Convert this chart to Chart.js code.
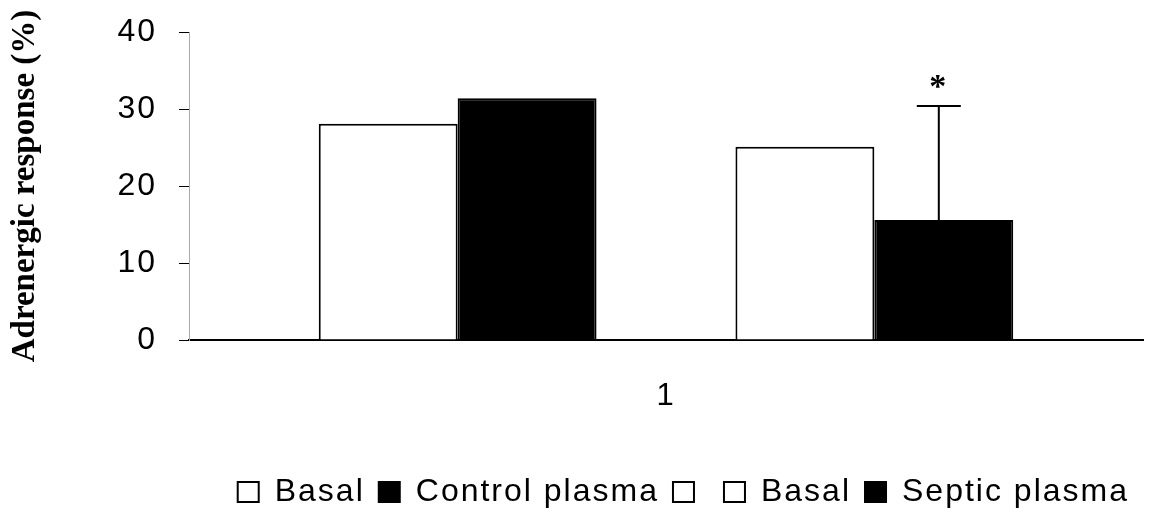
<!DOCTYPE html>
<html>
<head>
<meta charset="utf-8">
<script src="https://cdn.jsdelivr.net/npm/chart.js@4/dist/chart.umd.min.js"></script>
<style>
  html, body { margin: 0; padding: 0; background: #fff; }
  #wrap { width: 1155px; height: 522px; }
</style>
</head>
<body>
<div id="wrap"><canvas id="chart"></canvas></div>
<script>
// data
const categories = ['1'];
const seriesNames = ['Basal', 'Control plasma', '', 'Basal', 'Septic plasma'];
const basal1 = [28.1];
const controlPlasma = [31.4];
const blankSeries = [null];
const basal2 = [25.1];
const septicPlasma = [15.6];
const septicErrorTop = [30.4];
const yTicks = [0, 10, 20, 30, 40];

const sans = '"Liberation Sans", Arial, sans-serif';
const serif = '"Liberation Serif", "Times New Roman", serif';
const SPACING = '2px';

// wider glyph spacing like the scanned figure (not for the axis title)
const spacingPlugin = {
  id: 'spacing',
  beforeLayout(chart) { chart.ctx.letterSpacing = SPACING; },
  afterLayout(chart) {
    const y = chart.scales.y;
    if (!y._titlePatched) {
      const orig = y.drawTitle;
      y.drawTitle = function() {
        chart.ctx.letterSpacing = '0px';
        orig.apply(this, arguments);
        chart.ctx.letterSpacing = SPACING;
      };
      y._titlePatched = true;
    }
  },
  beforeDraw(chart) { chart.ctx.letterSpacing = SPACING; }
};

// error bar + asterisk on the septic plasma bar
const errorBarPlugin = {
  id: 'errorBar',
  afterDatasetsDraw(chart) {
    const meta = chart.getDatasetMeta(4);
    const yScale = chart.scales.y;
    const ctx = chart.ctx;
    meta.data.forEach((bar, i) => {
      const top = yScale.getPixelForValue(septicErrorTop[i]);
      ctx.save();
      ctx.strokeStyle = '#000';
      ctx.lineWidth = 2;
      ctx.beginPath();
      ctx.moveTo(bar.x - 5, bar.y);
      ctx.lineTo(bar.x - 5, top);
      ctx.moveTo(bar.x - 27, top);
      ctx.lineTo(bar.x + 17, top);
      ctx.stroke();
      ctx.fillStyle = '#000';
      ctx.font = 'bold 34px ' + serif;
      ctx.textAlign = 'center';
      ctx.textBaseline = 'alphabetic';
      ctx.fillText('*', bar.x - 5, top - 9);
      ctx.restore();
    });
  }
};

const fills = ['#fff', '#000', '#fff', '#fff', '#000'];
const values = [basal1, controlPlasma, blankSeries, basal2, septicPlasma];

new Chart(document.getElementById('chart'), {
  type: 'bar',
  data: {
    labels: categories,
    datasets: values.map((v, i) => ({
      label: seriesNames[i],
      data: v,
      backgroundColor: fills[i],
      borderColor: '#000',
      borderWidth: 2,
      categoryPercentage: 0.728,
      barPercentage: 1.0
    }))
  },
  options: {
    responsive: true,
    maintainAspectRatio: false,
    animation: false,
    layout: { padding: { top: 32, right: 12, left: 0, bottom: 4 } },
    plugins: {
      tooltip: { enabled: false },
      legend: {
        position: 'bottom',
        align: 'end',
        labels: {
          color: '#000',
          font: { family: sans, size: 32 },
          boxWidth: 21,
          boxHeight: 20,
          padding: 14
        }
      }
    },
    scales: {
      x: {
        grid: { display: false, drawTicks: false },
        border: { display: true, color: '#000', width: 2 },
        ticks: { color: '#000', font: { family: sans, size: 31 }, padding: 38 },
        afterFit(scale) { scale.height = 122; }
      },
      y: {
        min: 0,
        max: 40,
        afterBuildTicks(scale) { scale.ticks = yTicks.map(v => ({ value: v })); },
        grid: {
          display: true,
          drawOnChartArea: false,
          drawTicks: true,
          tickLength: 10,
          color: '#000',
          lineWidth: 1
        },
        border: { display: true, color: '#aaa', width: 1, dash: [2, 6] },
        ticks: { color: '#000', font: { family: sans, size: 32 }, padding: 22 },
        title: {
          display: true,
          text: 'Adrenergic response (%)',
          color: '#000',
          font: { family: serif, size: 33, weight: 'bold' },
          padding: { top: 6, bottom: 0 }
        },
        afterFit(scale) {
          scale.width = 189;
          scale.paddingTop = 0;
          scale.paddingBottom = 0;
        }
      }
    }
  },
  plugins: [spacingPlugin, errorBarPlugin]
});
</script>
</body>
</html>
